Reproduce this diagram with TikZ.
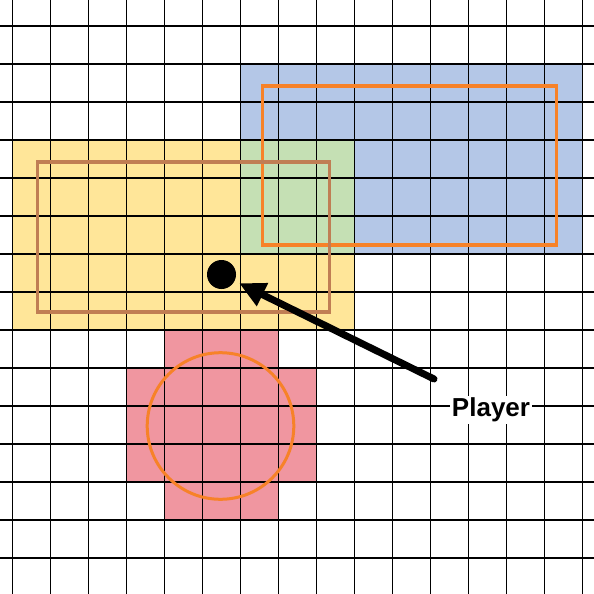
\documentclass[tikz,border=0pt]{standalone}
\usepackage{fontspec}
\setmainfont{Liberation Sans}
\usetikzlibrary{arrows.meta}
\definecolor{yel}{RGB}{255,230,153}
\definecolor{blu}{RGB}{180,199,231}
\definecolor{grn}{RGB}{197,224,180}
\definecolor{pnk}{RGB}{240,150,160}
\definecolor{org}{RGB}{247,130,40}
\definecolor{brn}{RGB}{192,126,84}
\tikzset{
  gridline/.style={line width=1.6pt, black},
  zonebox/.style={line width=3.3pt},
  playerdot/.style={circle, fill=black, minimum size=29pt, inner sep=0pt},
  label/.style={fill=white, inner sep=1.5pt, font=\bfseries\fontsize{26}{28}\selectfont},
  pointer/.style={line width=7pt, line cap=round, -{Triangle[length=26pt,width=24pt]}, shorten >=5pt}
}
\begin{document}
\begin{tikzpicture}[x=1pt,y=-1pt]
\useasboundingbox (0,0) rectangle (594,594);
\fill[white] (0,0) rectangle (594,594);
% zones
\fill[yel] (12.5,140) rectangle (354.5,330);
\fill[blu] (240.5,64) rectangle (583,254);
\fill[grn] (240.5,140) rectangle (354.5,254);
\fill[pnk] (164.5,330) rectangle (278.5,520);
\fill[pnk] (126.5,368) rectangle (316.5,482);
% grid
\foreach \i in {0,...,15} {
  \draw[gridline] (12.5+38*\i,0) -- (12.5+38*\i,594);
}
\foreach \j in {0,...,14} {
  \draw[gridline] (0,26+38*\j) -- (594,26+38*\j);
}
% outlines
\draw[zonebox, org] (262.5,86) rectangle (556.5,245);
\draw[zonebox, brn] (37.5,162) rectangle (329.5,312);
\draw[line width=3pt, org] (220.5,426) circle (73.3);
% player
\node[playerdot] (player) at (221.5,274.5) {};
\node[label] (lbl) at (491,410) {Player};
\coordinate (tail) at (434,379);
\draw[pointer] (tail) -- (player);
\end{tikzpicture}
\end{document}
